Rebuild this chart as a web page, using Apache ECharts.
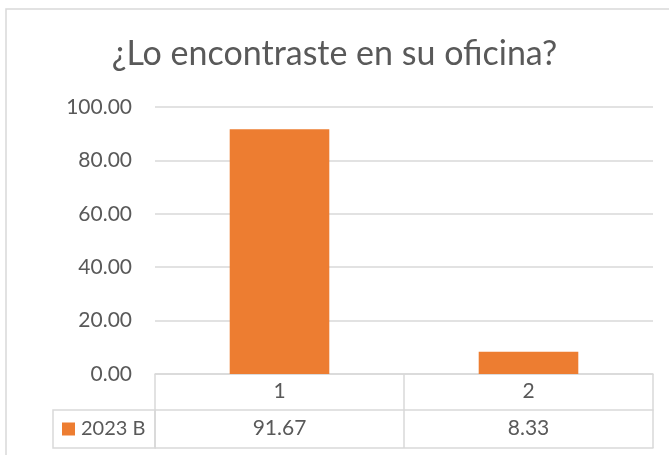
<!DOCTYPE html>
<html>
<head>
<meta charset="utf-8">
<script src="https://cdn.jsdelivr.net/npm/echarts@6/dist/echarts.min.js"></script>
<style>
	html, body { margin: 0; padding: 0; background: #fff; }
	#chart { width: 669px; height: 455px; }
</style>
</head>
<body>
<div id="chart"></div>
<script>
	'use strict';

	var categories = ['1', '2'];
	var seriesName = '2023 B';
	var values = [91.67, 8.33];
	var yTicks = [0, 20, 40, 60, 80, 100];

	var grey = '#D9D9D9';
	var textColor = '#595959';
	var font = 'Lato';

	var chart = echarts.init(document.getElementById('chart'));

	chart.setOption({
		animation: false,
		textStyle: { fontFamily: font },
		title: {
			text: '¿Lo encontraste en su oficina?',
			left: 'center',
			top: 32,
			textStyle: { fontFamily: font, fontSize: 34, fontWeight: 'normal', color: textColor }
		},
		legend: {
			data: [seriesName],
			left: 62,
			top: 419,
			padding: 0,
			icon: 'rect',
			itemWidth: 13,
			itemHeight: 13,
			itemStyle: { borderWidth: 0 },
			textStyle: { fontFamily: font, fontSize: 20, color: textColor, padding: [0, 0, 0, 1] }
		},
		grid: { left: 155, right: 16, top: 107, bottom: 81 },
		xAxis: [{
			type: 'category',
			data: categories,
			axisLine: { lineStyle: { color: grey, width: 1.5 } },
			axisTick: { show: true, length: 36, lineStyle: { color: grey, width: 1.5 } },
			axisLabel: { margin: 7, fontSize: 21, lineHeight: 21, color: textColor, fontFamily: font }
		}, {
			type: 'category',
			position: 'bottom',
			offset: 36,
			data: values.map(function(v) { return v.toFixed(2); }),
			axisLine: { lineStyle: { color: grey, width: 1.5 } },
			axisTick: { show: true, length: 38, lineStyle: { color: grey, width: 1.5 } },
			axisLabel: { margin: 8, fontSize: 21, lineHeight: 21, color: textColor, fontFamily: font }
		}, {
			type: 'category',
			position: 'bottom',
			offset: 74,
			data: categories,
			axisLine: { lineStyle: { color: grey, width: 1.5 } },
			axisTick: { show: false },
			axisLabel: { show: false }
		}],
		yAxis: {
			type: 'value',
			min: yTicks[0],
			max: yTicks[yTicks.length - 1],
			interval: yTicks[1] - yTicks[0],
			axisLine: { show: false },
			axisTick: { show: false },
			splitLine: { lineStyle: { color: grey, width: 1.5 } },
			axisLabel: {
				margin: 23,
				fontSize: 21,
				color: textColor,
				fontFamily: font,
				formatter: function(v) { return v.toFixed(2); }
			}
		},
		series: [{
			name: seriesName,
			type: 'bar',
			data: values,
			barWidth: '40%',
			itemStyle: { color: '#ED7D31' }
		}],
		graphic: [{
			type: 'rect',
			shape: { x: 6, y: 9, width: 700, height: 500 },
			style: { fill: null, stroke: grey, lineWidth: 1.5 },
			silent: true
		}, {
			type: 'rect',
			shape: { x: 53, y: 410, width: 102, height: 38 },
			style: { fill: null, stroke: grey, lineWidth: 1.5 },
			silent: true
		}]
	});
</script>
</body>
</html>
